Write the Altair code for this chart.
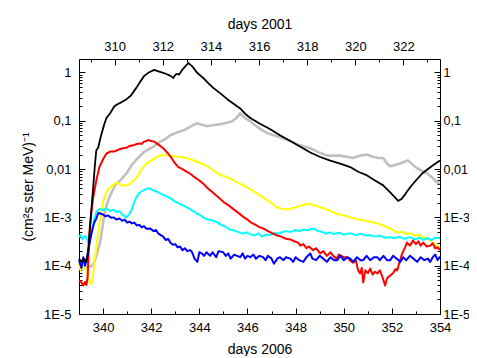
import altair as alt
import pandas as pd

# ---- data (day of 2006, flux) ----
BLACK = [(339.0,1.4e-4),(339.1,1.2e-4),(339.2,1.4e-4),(339.31,1.2e-4),(339.38,2.0e-4),(339.43,4.3e-4),
 (339.5,1.2e-3),(339.59,4.2e-3),(339.66,1.2e-2),(339.72,2.45e-2),(339.8,2.8e-2),(339.87,4.0e-2),
 (339.93,5.2e-2),(340.05,8.5e-2),(340.14,0.114),(340.3,0.145),(340.47,0.2),(340.6,0.22),(340.75,0.24),
 (340.97,0.28),(341.15,0.33),(341.38,0.48),(341.55,0.65),(341.71,0.85),(341.9,1.0),(342.13,1.13),
 (342.3,1.05),(342.5,0.98),(342.63,0.93),(342.8,0.85),(342.92,0.77),(342.98,0.86),(343.04,0.93),
 (343.15,0.9),(343.3,1.15),(343.54,1.57),(343.7,1.35),(343.9,1.0),(344.16,0.77),(344.4,0.58),
 (344.58,0.48),(344.9,0.36),(345.16,0.28),(345.45,0.22),(345.7,0.18),(345.9,0.14),(346.12,0.114),
 (346.5,0.088),(346.95,0.067),(347.35,0.05),(347.78,0.038),(348.2,0.029),(348.61,0.022),(349.0,0.018),
 (349.44,0.015),(349.85,0.013),(350.27,0.011),(350.6,8.8e-3),(350.97,7.4e-3),(351.3,5.8e-3),
 (351.64,4.6e-3),(351.9,3.4e-3),(352.13,2.6e-3),(352.26,2.2e-3),(352.4,2.4e-3),(352.55,3.0e-3),
 (352.76,4.2e-3),(353.0,5.8e-3),(353.26,8.1e-3),(353.5,1.0e-2),(353.71,1.2e-2),(354.0,1.5e-2)]

GRAY = [(339.0,9.0e-5),(339.2,8.8e-5),(339.4,9.5e-5),(339.56,1.0e-4),(339.64,1.2e-4),(339.72,1.6e-4),
 (339.8,2.2e-4),(339.89,3.3e-4),(339.97,6.0e-4),(340.05,1.1e-3),(340.15,1.8e-3),(340.26,2.6e-3),
 (340.4,3.6e-3),(340.51,4.7e-3),(340.65,5.5e-3),(340.8,6.5e-3),(341.0,8.5e-3),(341.18,1.2e-2),
 (341.4,1.6e-2),(341.67,2.2e-2),(341.9,2.6e-2),(342.09,2.9e-2),(342.34,3.6e-2),(342.6,4.2e-2),
 (342.79,5.0e-2),(343.0,5.5e-2),(343.21,6.1e-2),(343.4,6.5e-2),(343.6,7.5e-2),(343.91,8.9e-2),
 (344.1,8.3e-2),(344.33,7.7e-2),(344.6,8.2e-2),(344.87,8.5e-2),(345.1,9.0e-2),(345.37,9.8e-2),
 (345.55,0.115),(345.7,0.144),(345.85,0.12),(346.0,0.105),(346.12,9.8e-2),(346.3,8.2e-2),
 (346.53,6.8e-2),(346.8,5.6e-2),(347.0,5.2e-2),(347.24,4.8e-2),(347.5,4.3e-2),(347.78,3.8e-2),
 (348.1,3.2e-2),(348.4,2.9e-2),(348.61,2.7e-2),(348.9,2.3e-2),(349.1,2.1e-2),(349.31,1.9e-2),
 (349.6,1.9e-2),(349.85,1.9e-2),(350.1,1.8e-2),(350.39,1.7e-2),(350.7,1.9e-2),(350.97,2.0e-2),
 (351.2,1.8e-2),(351.45,1.7e-2),(351.64,1.7e-2),(351.8,1.3e-2),(351.93,1.15e-2),(352.1,1.2e-2),
 (352.34,1.3e-2),(352.5,1.4e-2),(352.67,1.5e-2),(352.85,1.25e-2),(353.05,1.04e-2),(353.25,9.2e-3),
 (353.46,8.2e-3),(353.7,6.5e-3),(353.88,5.3e-3),(354.0,5.1e-3)]

RED = [(339.0,5.0e-5),(339.1,4.5e-5),(339.18,3.9e-5),(339.25,4.6e-5),(339.31,4.0e-5),(339.36,6e-5),
 (339.4,2.0e-4),(339.45,6e-4),(339.51,1.2e-3),(339.58,2.4e-3),(339.64,3.6e-3),(339.74,6.5e-3),
 (339.85,1.1e-2),(340.0,1.6e-2),(340.14,2.1e-2),(340.3,2.3e-2),(340.45,2.3e-2),(340.55,2.4e-2),
 (340.7,2.6e-2),(340.85,2.7e-2),(341.0,2.8e-2),(341.09,3.0e-2),(341.25,3.1e-2),(341.4,3.3e-2),
 (341.51,3.4e-2),(341.6,3.3e-2),(341.7,3.7e-2),(341.8,3.8e-2),(341.88,4.0e-2),(342.0,3.8e-2),
 (342.13,3.7e-2),(342.3,3.2e-2),(342.5,2.7e-2),(342.7,2.1e-2),(342.84,1.7e-2),(343.0,1.3e-2),
 (343.13,1.1e-2),(343.3,1.0e-2),(343.45,9.0e-3),(343.62,8.0e-3),(343.8,6.8e-3),(344.0,5.8e-3),
 (344.16,5.0e-3),(344.35,4.0e-3),(344.55,3.3e-3),(344.79,2.6e-3),(345.0,2.1e-3),(345.2,1.8e-3),
 (345.4,1.5e-3),(345.57,1.3e-3),(345.8,1.05e-3),(346.0,9.0e-4),(346.12,8.0e-4),(346.3,7.2e-4),
 (346.5,6.3e-4),(346.66,5.9e-4),(346.85,5.2e-4),(347.0,4.8e-4),(347.24,4.2e-4),(347.4,4.0e-4),
 (347.6,3.6e-4),(347.78,3.5e-4),(347.95,3.2e-4),(348.1,3.0e-4),(348.2,2.6e-4),(348.32,2.8e-4),
 (348.45,2.3e-4),(348.55,2.5e-4),(348.73,2.1e-4),(348.85,2.3e-4),(349.02,1.8e-4),(349.15,2.0e-4),
 (349.3,1.6e-4),(349.45,1.9e-4),(349.56,1.6e-4),(349.7,1.4e-4),(349.8,1.7e-4),(350.0,1.5e-4),
 (350.14,1.5e-4),(350.25,1.3e-4),(350.39,1.15e-4),(350.5,1.3e-4),(350.6,8.0e-5),(350.68,6.9e-5),
 (350.75,9.0e-5),(350.81,4.5e-5),(350.9,8.0e-5),(351.0,7.0e-5),(351.1,8.7e-5),(351.2,6.5e-5),
 (351.3,7.5e-5),(351.39,6.9e-5),(351.5,8.0e-5),(351.6,6.0e-5),(351.72,3.9e-5),(351.8,5.5e-5),
 (351.93,6.3e-5),(352.05,7.0e-5),(352.15,8.5e-5),(352.22,8.0e-5),(352.3,1.1e-4),(352.43,1.8e-4),
 (352.55,2.4e-4),(352.63,3.0e-4),(352.75,2.6e-4),(352.88,3.3e-4),(353.0,2.8e-4),(353.1,3.2e-4),
 (353.2,2.6e-4),(353.3,3.0e-4),(353.45,2.5e-4),(353.59,2.6e-4),(353.7,2.9e-4),(353.8,2.3e-4),
 (353.9,2.4e-4),(354.0,2.1e-4)]

YELLOW = [(339.0,1.1e-4),(339.06,8.0e-5),(339.12,1.0e-4),(339.18,9e-5),(339.22,1.1e-4),(339.3,8e-5),
 (339.39,5.7e-5),(339.45,4.5e-5),(339.51,4.1e-5),(339.57,5.5e-5),(339.64,1.15e-4),(339.72,2.5e-4),
 (339.81,5.4e-4),(339.9,1.1e-3),(340.01,2.2e-3),(340.12,3.2e-3),(340.26,4.0e-3),(340.4,4.6e-3),
 (340.55,5.3e-3),(340.65,5.0e-3),(340.76,4.6e-3),(340.9,4.5e-3),(341.09,4.9e-3),(341.25,5.6e-3),
 (341.38,6.5e-3),(341.52,8.5e-3),(341.67,1.1e-2),(341.85,1.35e-2),(342.09,1.6e-2),(342.3,1.85e-2),
 (342.5,2.0e-2),(342.7,1.9e-2),(342.9,1.85e-2),(343.08,1.8e-2),(343.3,1.75e-2),(343.45,1.7e-2),
 (343.62,1.6e-2),(343.85,1.45e-2),(344.0,1.35e-2),(344.16,1.27e-2),(344.45,1.05e-2),(344.75,8.2e-3),
 (345.0,7.2e-3),(345.28,6.4e-3),(345.5,5.5e-3),(345.75,4.8e-3),(345.99,4.2e-3),(346.2,3.6e-3),
 (346.45,3.0e-3),(346.65,2.6e-3),(346.85,2.2e-3),(347.05,1.9e-3),(347.24,1.6e-3),(347.45,1.5e-3),
 (347.65,1.45e-3),(347.85,1.55e-3),(348.07,1.65e-3),(348.3,1.8e-3),(348.5,1.9e-3),(348.7,1.85e-3),
 (348.9,1.7e-3),(349.15,1.55e-3),(349.4,1.4e-3),(349.6,1.25e-3),(349.8,1.15e-3),(350.0,1.1e-3),
 (350.27,1.0e-3),(350.5,9.3e-4),(350.81,8.7e-4),(351.1,8.1e-4),(351.39,7.6e-4),(351.65,6.7e-4),
 (351.93,5.9e-4),(352.1,5.2e-4),(352.22,4.9e-4),(352.45,5.0e-4),(352.6,4.5e-4),(352.76,4.7e-4),
 (352.95,4.2e-4),(353.15,4.3e-4),(353.3,3.9e-4),(353.5,3.6e-4),(353.71,3.0e-4),(353.85,2.6e-4),
 (354.0,2.3e-4)]

CYAN = [(339.0,3.9e-4),(339.07,4.3e-4),(339.14,3.5e-4),(339.2,3.9e-4),(339.27,4.1e-4),(339.33,3.6e-4),
 (339.39,3.0e-4),(339.45,3.6e-4),(339.51,4.3e-4),(339.58,7.0e-4),(339.64,9.6e-4),(339.72,1.3e-3),
 (339.85,1.5e-3),(340.0,1.4e-3),(340.14,1.55e-3),(340.28,1.35e-3),(340.43,1.45e-3),(340.55,1.3e-3),
 (340.68,1.35e-3),(340.8,1.15e-3),(340.9,1.05e-3),(340.97,1.0e-3),(341.08,1.15e-3),(341.18,1.4e-3),
 (341.28,2.0e-3),(341.38,2.6e-3),(341.5,3.2e-3),(341.67,3.6e-3),(341.8,3.9e-3),(341.92,4.0e-3),
 (342.05,3.7e-3),(342.18,3.5e-3),(342.3,3.3e-3),(342.45,3.0e-3),(342.6,2.8e-3),(342.79,2.5e-3),
 (342.95,2.2e-3),(343.1,2.0e-3),(343.3,1.8e-3),(343.5,1.6e-3),(343.7,1.4e-3),(343.9,1.2e-3),
 (344.0,1.15e-3),(344.16,1.0e-3),(344.35,9.0e-4),(344.55,8.6e-4),(344.75,7.9e-4),(344.9,7.0e-4),
 (345.1,6.4e-4),(345.25,5.6e-4),(345.41,5.4e-4),(345.6,5.0e-4),(345.8,4.6e-4),(345.95,4.9e-4),
 (346.12,4.5e-4),(346.3,4.2e-4),(346.45,4.7e-4),(346.6,4.0e-4),(346.75,4.4e-4),(346.95,4.3e-4),
 (347.15,4.8e-4),(347.3,4.6e-4),(347.45,5.0e-4),(347.65,5.2e-4),(347.8,5.0e-4),(348.0,5.5e-4),
 (348.15,5.2e-4),(348.32,5.6e-4),(348.5,5.4e-4),(348.73,5.9e-4),(348.9,5.3e-4),(349.1,5.0e-4),
 (349.25,4.6e-4),(349.44,4.9e-4),(349.6,4.5e-4),(349.8,4.8e-4),(350.0,4.4e-4),(350.27,4.7e-4),
 (350.5,4.3e-4),(350.7,4.6e-4),(350.9,4.2e-4),(351.1,4.3e-4),(351.3,4.0e-4),(351.5,4.2e-4),
 (351.7,3.8e-4),(351.93,3.9e-4),(352.1,3.7e-4),(352.3,4.0e-4),(352.5,3.6e-4),(352.76,3.9e-4),
 (352.95,3.5e-4),(353.15,3.8e-4),(353.3,3.4e-4),(353.46,3.7e-4),(353.65,3.4e-4),(353.8,3.8e-4),
 (354.0,3.7e-4)]

BLUE = [(339.0,1.3e-4),(339.1,9e-5),(339.18,1.5e-4),(339.25,1.0e-4),(339.31,1.3e-4),(339.39,2.1e-4),
 (339.51,4.5e-4),(339.62,7.5e-4),(339.72,9.5e-4),(339.8,1.25e-3),(339.89,1.2e-3),(340.0,1.15e-3),
 (340.1,1.05e-3),(340.2,1.1e-3),(340.34,9.8e-4),(340.45,1.0e-3),(340.55,9.0e-4),(340.68,9.5e-4),
 (340.8,8.5e-4),(340.9,9.0e-4),(341.0,7.8e-4),(341.09,8.2e-4),(341.2,7.5e-4),(341.3,7.8e-4),
 (341.4,6.8e-4),(341.51,7.0e-4),(341.6,6.2e-4),(341.7,6.6e-4),(341.8,5.8e-4),(341.96,5.9e-4),
 (342.1,5.2e-4),(342.2,5.5e-4),(342.3,4.6e-4),(342.4,4.3e-4),(342.5,4.0e-4),(342.6,3.4e-4),
 (342.7,3.6e-4),(342.8,3.0e-4),(342.9,2.7e-4),(343.0,2.8e-4),(343.1,2.4e-4),(343.2,2.5e-4),
 (343.3,2.1e-4),(343.4,2.3e-4),(343.5,2.0e-4),(343.62,2.1e-4),(343.7,1.9e-4),(343.8,1.4e-4),
 (343.92,1.2e-4),(344.0,1.9e-4),(344.1,1.8e-4),(344.2,1.6e-4),(344.3,1.9e-4),(344.45,1.6e-4),
 (344.55,1.9e-4),(344.7,1.5e-4),(344.8,2.0e-4),(344.99,1.9e-4),(345.1,1.6e-4),(345.2,1.8e-4),
 (345.3,1.4e-4),(345.45,1.7e-4),(345.57,1.6e-4),(345.7,1.5e-4),(345.8,1.8e-4),(345.9,1.4e-4),
 (346.0,1.6e-4),(346.12,1.5e-4),(346.25,1.7e-4),(346.35,1.4e-4),(346.5,1.6e-4),(346.65,1.5e-4),
 (346.75,1.3e-4),(346.85,1.6e-4),(347.0,1.4e-4),(347.1,1.1e-4),(347.24,1.4e-4),(347.35,1.5e-4),
 (347.5,1.3e-4),(347.6,1.5e-4),(347.78,1.4e-4),(347.9,1.2e-4),(348.0,1.5e-4),(348.15,1.3e-4),
 (348.32,1.2e-4),(348.45,1.5e-4),(348.61,1.8e-4),(348.7,1.4e-4),(348.85,1.3e-4),(349.0,1.6e-4),
 (349.15,1.4e-4),(349.3,1.2e-4),(349.45,1.5e-4),(349.6,1.3e-4),(349.73,1.3e-4),(349.85,1.6e-4),
 (350.0,1.3e-4),(350.15,1.5e-4),(350.27,1.4e-4),(350.4,1.2e-4),(350.55,1.5e-4),(350.7,1.3e-4),
 (350.81,1.3e-4),(350.95,1.6e-4),(351.1,1.3e-4),(351.25,1.5e-4),(351.39,1.5e-4),(351.5,1.3e-4),
 (351.65,1.6e-4),(351.8,1.3e-4),(351.93,1.3e-4),(352.05,1.6e-4),(352.2,1.4e-4),(352.35,1.2e-4),
 (352.47,1.5e-4),(352.6,1.3e-4),(352.75,1.6e-4),(352.9,1.4e-4),(353.05,1.2e-4),(353.2,1.5e-4),
 (353.35,1.3e-4),(353.5,1.4e-4),(353.59,1.2e-4),(353.7,1.5e-4),(353.8,1.7e-4),(353.9,1.3e-4),
 (354.0,1.55e-4)]

X_DOMAIN_2006 = [339, 354]
X_DOMAIN_2001 = [308.52, 323.52]
X_TICKS_2006 = list(range(339, 355))
X_TICKS_2001 = list(range(309, 324))
Y_DOMAIN = [1e-5, 1.9]
Y_MAJOR = [1e-5, 1e-4, 1e-3, 1e-2, 1e-1, 1.0]
Y_LABELS = ["1E-5", "1E-4", "1E-3", "0,01", "0,1", "1"]
Y_MINOR = [k * m for m in Y_MAJOR[:-1] for k in range(2, 10)]

SERIES = [
    ("gray", "#c0c0c0", 2.6, GRAY),
    ("yellow", "#ffff00", 2.0, YELLOW),
    ("cyan", "#00ffff", 2.0, CYAN),
    ("red", "#ff0000", 2.0, RED),
    ("blue", "#0000ff", 2.0, BLUE),
    ("black", "#000000", 1.8, BLACK),
]

FONT = "Liberation Sans"

y_label_expr = " : ".join(
    f"abs(datum.value/{v} - 1) < 1e-6 ? '{t}'" for v, t in zip(Y_MAJOR, Y_LABELS)
) + " : ''"
y_major_test = "abs(log(datum.value)/LN10 - round(log(datum.value)/LN10)) < 0.001"
x_major_test = "datum.value % 2 == 0"

common_axis = dict(
    labelFont=FONT, labelColor="black",
    titleFont=FONT, titleFontSize=14, titleFontWeight="normal", titleColor="black",
    domainColor="black", domainWidth=1, tickColor="black", tickWidth=1,
    grid=False, labelOverlap=False, labelFlush=False, labelBound=False,
)

x_scale = alt.Scale(domain=X_DOMAIN_2006, nice=False, zero=False)
y_scale = alt.Scale(type="log", domain=Y_DOMAIN, nice=False)

x_axis_bottom = alt.Axis(
    orient="bottom", values=X_TICKS_2006, title="days 2006",
    labelExpr=f"{x_major_test} ? datum.value : ''", labelFontSize=13,
    tickSize={"condition": {"test": x_major_test, "value": -6}, "value": -3},
    labelPadding=13, titlePadding=5, **common_axis)
y_axis_left = alt.Axis(
    orient="left", values=Y_MINOR + Y_MAJOR, title="(cm²s ster MeV)⁻¹",
    labelExpr=y_label_expr, labelFontSize=13,
    tickSize={"condition": {"test": y_major_test, "value": -6}, "value": -3},
    labelPadding=14, titlePadding=8, **common_axis)

layers = []
for name, color, width, pts in SERIES:
    df = pd.DataFrame(pts, columns=["day", "flux"])
    layers.append(
        alt.Chart(df).mark_line(color=color, strokeWidth=width, strokeJoin="round").encode(
            x=alt.X("day:Q", scale=x_scale, axis=x_axis_bottom),
            y=alt.Y("flux:Q", scale=y_scale, axis=y_axis_left),
        )
    )
inner = alt.layer(*layers)

top_df = pd.DataFrame({"d2001": [316.0], "flux": [1e-3]})
top = alt.Chart(top_df).mark_point(opacity=0).encode(
    x=alt.X("d2001:Q", scale=alt.Scale(domain=X_DOMAIN_2001, nice=False, zero=False),
            axis=alt.Axis(orient="top", values=X_TICKS_2001, title="days 2001",
                          labelExpr=f"{x_major_test} ? datum.value : ''", labelFontSize=13,
                          tickSize={"condition": {"test": x_major_test, "value": -6}, "value": -3},
                          labelPadding=12, titlePadding=6, **common_axis)),
    y=alt.Y("flux:Q", scale=y_scale,
            axis=alt.Axis(orient="right", values=Y_MINOR + Y_MAJOR, title=None,
                          labelExpr=y_label_expr, labelFontSize=12.5,
                          tickSize={"condition": {"test": y_major_test, "value": -6}, "value": -3},
                          labelPadding=9, **common_axis)),
)

chart = alt.layer(inner, top).resolve_scale(x="independent", y="shared").resolve_axis(
    x="independent", y="independent"
).properties(
    width=361, height=255,
    autosize=alt.AutoSizeParams(type="none"),
    padding={"left": 71, "top": 51, "right": 29, "bottom": 42},
    background="white",
).configure_view(stroke=None)

chart.save("out.html", embed_options={"renderer": "svg", "actions": False})
